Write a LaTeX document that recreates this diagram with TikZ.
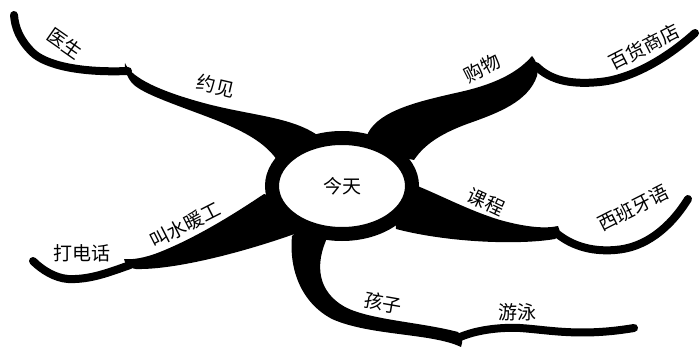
\documentclass[tikz,border=0pt]{standalone}
\usepackage{fontspec}
\newfontfamily\cjk{Noto Sans CJK SC}
\usetikzlibrary{shapes.geometric}
\begin{document}
\begin{tikzpicture}[x=1pt,y=-1pt,
  twig/.style={line width=8pt,line cap=round},
  lbl/.style={font=\cjk\fontsize{19}{19}\selectfont,inner sep=0pt}]
  \useasboundingbox (0,0) rectangle (700,347);
  \draw[twig] (128,71) .. controls (80,73) and (45,65) .. (32,52) .. controls (20,40) and (15,28) .. (14,15);
  \draw[twig] (536,66) .. controls (550,80) and (570,85) .. (600,82) .. controls (630,79) and (665,60) .. (695,33);
  \draw[twig] (130,265) .. controls (110,272) and (90,280) .. (68,279) .. controls (55,278) and (42,270) .. (33,261);
  \draw[twig] (555,232) .. controls (570,245) and (590,252) .. (615,250) .. controls (645,248) and (670,228) .. (688,199);
  \draw[twig] (458,338) .. controls (475,330) and (500,327) .. (520,328) .. controls (550,330) and (580,337) .. (634,328);
  \fill (125,63) .. controls (130,75) and (150,88) .. (200,102) .. controls (250,116) and (292,116) .. (320,137) -- (300,170) -- (277,160) .. controls (262,138) and (232,126) .. (200,114) .. controls (165,101) and (140,92) .. (132,83) .. controls (127,77) and (124,70) .. (125,63) -- cycle;
  \fill (365,150) -- (368,133) .. controls (380,110) and (420,101) .. (460,92) .. controls (500,83) and (520,70) .. (532,56) .. controls (537,62) and (539,69) .. (537,76) .. controls (528,102) and (498,113) .. (467,124) .. controls (440,134) and (424,145) .. (414,160) -- cycle;
  \fill (300,205) -- (264,194) .. controls (240,210) and (200,236) .. (160,252) .. controls (145,258) and (132,260) .. (124,259) .. controls (125,264) and (128,268) .. (136,269) .. controls (175,270) and (245,252) .. (300,232) -- cycle;
  \fill (395,200) -- (415,185) .. controls (440,195) and (470,211) .. (500,220) .. controls (525,227) and (545,229) .. (558,226) .. controls (561,231) and (559,236) .. (555,239) .. controls (520,245) and (450,243) .. (396,229) -- cycle;
  \fill (310,220) -- (292,236) .. controls (289,268) and (300,302) .. (332,319) .. controls (370,336) and (432,333) .. (461,347) .. controls (463,341) and (463,336) .. (458,332) .. controls (420,322) and (370,320) .. (345,307) .. controls (318,292) and (314,265) .. (328,236) -- cycle;
  \node[draw,ellipse,line width=14pt,fill=white,minimum width=140pt,minimum height=96pt,font=\cjk\fontsize{19}{19}\selectfont] (today) at (342,186) {今天};
  \node[lbl,rotate=-35] (doctor) at (65,43) {医生};
  \node[lbl,rotate=-13] (appoint) at (216,86) {约见};
  \node[lbl,rotate=27] (shop) at (482,68) {购物};
  \node[lbl,rotate=27] (store) at (644,47) {百货商店};
  \node[lbl,rotate=27] (plumber) at (185,225) {叫水暖工};
  \node[lbl] (call) at (82,253) {打电话};
  \node[lbl,rotate=-25] (course) at (486,202) {课程};
  \node[lbl,rotate=27] (spanish) at (633,208) {西班牙语};
  \node[lbl,rotate=-10] (kids) at (383,303) {孩子};
  \node[lbl] (swim) at (517,312) {游泳};
\end{tikzpicture}
\end{document}
